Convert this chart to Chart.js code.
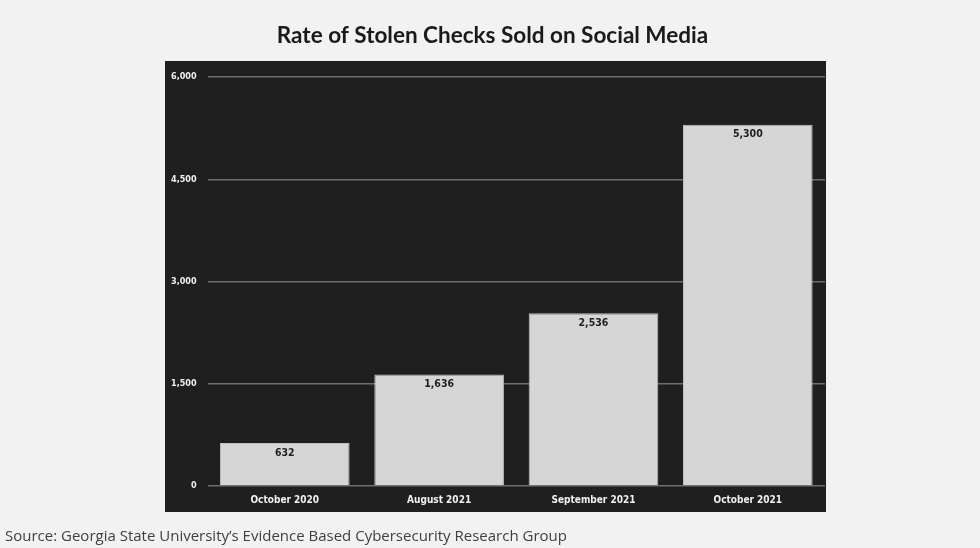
<!DOCTYPE html>
<html>
<head>
<meta charset="utf-8">
<script src="https://cdn.jsdelivr.net/npm/chart.js@4.4.1/dist/chart.umd.min.js"></script>
<style>
  html, body { margin: 0; padding: 0; background: #f2f2f2; }
  #wrap { position: relative; width: 980px; height: 548px; }
  #source {
    position: absolute; left: 5px; top: 525px;
    font: 15px "Open Sans", sans-serif; color: #3f3f3f; white-space: nowrap;
  }
</style>
</head>
<body>
<div id="wrap">
  <canvas id="chart" width="980" height="548"></canvas>
  <div id="source">Source: Georgia State University’s Evidence Based Cybersecurity Research Group</div>
</div>
<script>
// data
const periods = ["October 2020", "August 2021", "September 2021", "October 2021"];
const checksSold = [632, 1636, 2536, 5300];
const yTicks = [0, 1500, 3000, 4500, 6000];

// dark panel behind the plot
const panelBg = {
  id: "panelBg",
  beforeDraw(chart) {
    const ctx = chart.ctx;
    ctx.save();
    ctx.fillStyle = "#f2f2f2";
    ctx.fillRect(0, 0, chart.width, chart.height);
    ctx.fillStyle = "#1f1f1f";
    ctx.fillRect(165, 61, 661, 451);
    ctx.restore();
  }
};

// value inside top of each bar
const barValues = {
  id: "barValues",
  afterDatasetsDraw(chart) {
    const ctx = chart.ctx;
    const meta = chart.getDatasetMeta(0);
    ctx.save();
    ctx.fillStyle = "#1e1e1e";
    ctx.font = "bold 10.5px 'Liberation Sans Narrow', 'DejaVu Sans Condensed', sans-serif";
    ctx.textAlign = "center";
    ctx.textBaseline = "middle";
    meta.data.forEach((bar, i) => {
      ctx.fillText(checksSold[i].toLocaleString("en-US"), bar.x, bar.y + 10);
    });
    ctx.restore();
  }
};

new Chart(document.getElementById("chart"), {
  type: "bar",
  data: {
    labels: periods,
    datasets: [{
      data: checksSold,
      backgroundColor: "#d6d6d6",
      borderColor: "#bdbdbd",
      borderWidth: 1,
      categoryPercentage: 1,
      barPercentage: 0.84
    }]
  },
  options: {
    responsive: false,
    animation: false,
    layout: { padding: { left: 160, right: 155, top: 0, bottom: 42 } },
    plugins: {
      legend: { display: false },
      tooltip: { enabled: false },
      title: {
        display: true,
        text: "Rate of Stolen Checks Sold on Social Media",
        color: "#1a1a1a",
        font: { family: "Lato, 'Open Sans', sans-serif", size: 22.5, weight: "bold" },
        padding: { top: 22, bottom: 28 }
      }
    },
    scales: {
      x: {
        grid: { display: false },
        border: { display: false },
        ticks: {
          color: "#f0f0f0",
          font: { family: "'Liberation Sans Narrow', 'DejaVu Sans Condensed', sans-serif", size: 10, weight: "bold" },
          padding: 0
        }
      },
      y: {
        min: 0,
        max: 6000,
        afterBuildTicks(axis) {
          axis.ticks = yTicks.map(v => ({ value: v }));
        },
        grid: { color: "#6e6e6e", lineWidth: 1.5, drawTicks: false },
        border: { display: false },
        ticks: {
          color: "#f0f0f0",
          padding: 11,
          font: { family: "'Liberation Sans Narrow', 'DejaVu Sans Condensed', sans-serif", size: 9, weight: "bold" },
          callback: v => v.toLocaleString("en-US")
        }
      }
    }
  },
  plugins: [panelBg, barValues]
});
</script>
</body>
</html>
